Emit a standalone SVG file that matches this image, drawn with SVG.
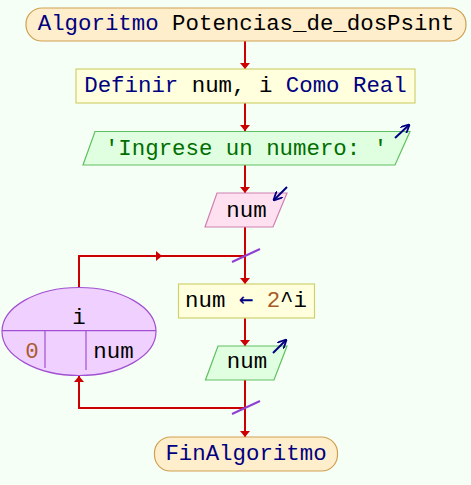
<svg xmlns="http://www.w3.org/2000/svg" width="471" height="485" viewBox="0 0 471 485">
<defs>
<style>
text{font-family:"Liberation Mono","DejaVu Sans Mono",monospace;font-size:22.4px;fill:#000;text-anchor:middle}
.kw{fill:#000080}
.arr{font-family:"DejaVu Sans Mono",monospace;font-size:24px}
.str{fill:#006e00}
.num{fill:#a85a2a}
.term{fill:#ffeecc;stroke:#d0a050;stroke-width:1.2}
.proc{fill:#ffffdd;stroke:#d0d070;stroke-width:1.2}
.out{fill:#e0ffe0;stroke:#60c060;stroke-width:1.2}
.in{fill:#ffe0f0;stroke:#d080b0;stroke-width:1.2}
.loop{fill:#f0d0ff;stroke:#a050d0;stroke-width:1.2}
.edge{fill:none;stroke:#cc0000;stroke-width:2}
.slash{stroke:#9040d0;stroke-width:2}
.icon{fill:none;stroke:#000080;stroke-width:2}
</style>
<marker id="ah" viewBox="0 0 6 10" refX="6" refY="5" markerWidth="6" markerHeight="10" markerUnits="userSpaceOnUse" orient="auto">
<path d="M0,0 L6,5 L0,10 z" fill="#cc0000"/>
</marker>
<marker id="ih" viewBox="0 0 10 10" refX="9" refY="5" markerWidth="9" markerHeight="9" markerUnits="userSpaceOnUse" orient="auto">
<path d="M0,0 L10,5 L0,10" fill="none" stroke="#000080" stroke-width="2"/>
</marker>
</defs>
<rect width="471" height="485" fill="#f6fff6"/>
<g id="connectors">
<line class="edge" x1="245" y1="41" x2="245" y2="69" marker-end="url(#ah)"/>
<line class="edge" x1="245" y1="103" x2="245" y2="131" marker-end="url(#ah)"/>
<line class="edge" x1="245" y1="165" x2="245" y2="193" marker-end="url(#ah)"/>
<line class="edge" x1="245" y1="227" x2="245" y2="284" marker-end="url(#ah)"/>
<polyline class="edge" points="79,287 79,256 245,256"/>
<line class="edge" x1="150" y1="256" x2="162" y2="256" marker-end="url(#ah)"/>
<line class="edge" x1="245" y1="318" x2="245" y2="346" marker-end="url(#ah)"/>
<line class="edge" x1="245" y1="380" x2="245" y2="437" marker-end="url(#ah)"/>
<polyline class="edge" points="245,408 79,408 79,390"/>
<line class="edge" x1="79" y1="390" x2="79" y2="376" marker-end="url(#ah)"/>
<line class="slash" x1="232" y1="262" x2="260" y2="249"/>
<line class="slash" x1="232" y1="414" x2="260" y2="401"/>
</g>
<g id="start">
<rect class="term" x="26" y="8" width="440" height="33" rx="16"/>
<text x="246" y="30"><tspan class="kw">Algoritmo</tspan> Potencias_de_dosPsint</text>
</g>
<g id="define">
<rect class="proc" x="76" y="69" width="339" height="34"/>
<text x="245.5" y="92"><tspan class="kw">Definir</tspan> num, i <tspan class="kw">Como Real</tspan></text>
</g>
<g id="write1">
<polygon class="out" points="95,131.5 410,131.5 395,165 83,165"/>
<text class="str" x="246" y="155">'Ingrese un numero: '</text>
<line class="icon" x1="395" y1="138" x2="409" y2="125" marker-end="url(#ih)"/>
</g>
<g id="read">
<polygon class="in" points="217,193 287,193 273,227 205,227"/>
<text x="246.5" y="217">num</text>
<line class="icon" x1="287" y1="187" x2="274" y2="200" marker-end="url(#ih)"/>
</g>
<g id="loop">
<ellipse class="loop" cx="79" cy="331.5" rx="77" ry="44"/>
<line stroke="#a050d0" stroke-width="1.2" x1="2" y1="330.7" x2="156" y2="330.7"/>
<line stroke="#a050d0" stroke-width="1.2" x1="45" y1="330.7" x2="45" y2="368"/>
<line stroke="#a050d0" stroke-width="1.2" x1="86" y1="330.7" x2="86" y2="370"/>
<text x="79" y="324">i</text>
<text class="num" x="32" y="358">0</text>
<text x="113.5" y="358">num</text>
</g>
<g id="assign">
<rect class="proc" x="178.5" y="284" width="136" height="34"/>
<text x="246" y="307">num <tspan class="kw arr">←</tspan> <tspan class="num">2</tspan>^i</text>
</g>
<g id="write2">
<polygon class="out" points="218,346 287,346 274,380 205.5,380"/>
<text x="247" y="368">num</text>
<line class="icon" x1="273" y1="353" x2="286" y2="340" marker-end="url(#ih)"/>
</g>
<g id="end">
<rect class="term" x="154.5" y="437" width="183" height="34" rx="16"/>
<text class="kw" x="246" y="460">FinAlgoritmo</text>
</g>
</svg>
